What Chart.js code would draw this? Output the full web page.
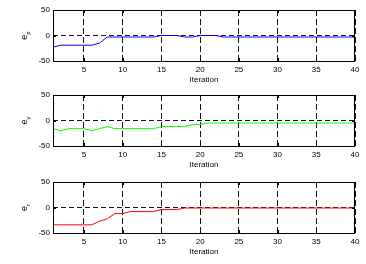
<!DOCTYPE html>
<html>
<head>
<meta charset="UTF-8">
<title>Errors per iteration</title>
<script src="https://cdn.jsdelivr.net/npm/chart.js"></script>
<style>
  body { margin: 0; background: #fff; }
  #wrap { position: relative; width: 366px; height: 264px; }
  canvas { position: absolute; left: 0; }
</style>
</head>
<body>
<div id="wrap">
  <canvas id="c1" width="366" height="86" style="top:0px"></canvas>
  <canvas id="c2" width="366" height="86" style="top:85px"></canvas>
  <canvas id="c3" width="366" height="86" style="top:172px"></canvas>
</div>
<script>
// data
const iterations = [1,2,3,4,5,6,7,8,9,10,11,12,13,14,15,16,17,18,19,20,
                    21,22,23,24,25,26,27,28,29,30,31,32,33,34,35,36,37,38,39,40];
const errP = [-23,-19,-19,-19,-19,-19,-15,-3,-3,-3,-3,-3,-3,-3,0,0,0,-3,-3,0,
              0,0,-3,-3,-3,-3,-3,-3,-3,-3,-3,-3,-3,-3,-3,-3,-3,-3,-3,-3];
const errY = [-16,-20,-16,-16,-16,-20,-16,-12,-16,-16,-16,-16,-16,-16,-12,-12,-12,-12,-8,-8,
              -5,-5,-5,-5,-5,-5,-5,-5,-5,-5,-5,-5,-5,-5,-5,-5,-5,-5,-5,-5];
const errR = [-34,-34,-34,-34,-34,-34,-27,-22,-12,-12,-8,-8,-8,-8,-4,-4,-4,-1,-1,-1,
              -1,-1,-1,-1,-1,-1,-1,-1,-1,-1,-1,-1,-1,-1,-1,-1,-1,-1,-1,-1];
const xTicks = [5,10,15,20,25,30,35,40];
const yTicks = [-50,0,50];

const FONT = 'Liberation Sans, Arial, sans-serif';

// box around the axes, inner tick marks and the subscripted y label
const axesDeco = {
  id: 'axesDeco',
  afterDraw(chart, args, opts) {
    const ctx = chart.ctx;
    const a = chart.chartArea;
    const xs = chart.scales.x, ys = chart.scales.y;
    ctx.save();
    ctx.strokeStyle = '#000';
    ctx.lineWidth = 1;
    ctx.setLineDash([]);
    ctx.strokeRect(Math.round(a.left) + 0.5, Math.round(a.top) + 0.5,
                   Math.round(a.right - a.left) - 1, Math.round(a.bottom - a.top));
    ctx.beginPath();
    xTicks.forEach(t => {
      const px = Math.round(xs.getPixelForValue(t)) + 0.5;
      ctx.moveTo(px, a.bottom); ctx.lineTo(px, a.bottom - 3);
      ctx.moveTo(px, a.top); ctx.lineTo(px, a.top + 3);
    });
    yTicks.forEach(t => {
      const py = Math.round(ys.getPixelForValue(t)) + 0.5;
      ctx.moveTo(a.left, py); ctx.lineTo(a.left + 3, py);
      ctx.moveTo(a.right, py); ctx.lineTo(a.right - 3, py);
    });
    ctx.stroke();

    // y label "e" with subscript
    ctx.translate(25, (a.top + a.bottom) / 2);
    ctx.rotate(-Math.PI / 2);
    ctx.fillStyle = '#000';
    ctx.textBaseline = 'alphabetic';
    ctx.font = '9px ' + FONT;
    const w = ctx.measureText('e').width;
    ctx.font = '6px ' + FONT;
    const sw = ctx.measureText(opts.sub).width;
    const x0 = -(w + sw) / 2;
    ctx.font = '9px ' + FONT;
    ctx.fillText('e', x0, 2);
    ctx.font = '6px ' + FONT;
    ctx.fillText(opts.sub, x0 + w, 5);
    ctx.restore();
  }
};

function makeChart(id, values, color, sub) {
  const ctx = document.getElementById(id).getContext('2d');
  return new Chart(ctx, {
    type: 'line',
    data: {
      datasets: [{
        data: iterations.map((it, i) => ({ x: it, y: values[i] })),
        borderColor: color,
        borderWidth: 1,
        pointRadius: 0,
        tension: 0,
        fill: false
      }]
    },
    options: {
      responsive: false,
      animation: false,
      layout: { padding: { top: 10, right: 11, left: 0, bottom: 0 } },
      plugins: {
        legend: { display: false },
        tooltip: { enabled: false },
        axesDeco: { sub: sub }
      },
      scales: {
        x: {
          type: 'linear',
          min: 1,
          max: 40,
          afterBuildTicks: s => { s.ticks = xTicks.map(v => ({ value: v })); },
          afterFit: s => { s.height = 25; },
          grid: { color: '#111', drawTicks: false },
          border: { display: false, dash: [6, 3] },
          ticks: { color: '#000', font: { family: FONT, size: 8 }, padding: 4, maxRotation: 0 },
          title: { display: true, text: 'Iteration', color: '#000',
                   font: { family: FONT, size: 8 }, padding: { top: 0, bottom: 1 } }
        },
        y: {
          min: -50,
          max: 50,
          afterBuildTicks: s => { s.ticks = yTicks.map(v => ({ value: v })); },
          afterFit: s => { s.width = 53; },
          grid: { color: '#111', drawTicks: false },
          border: { display: false, dash: [5, 3] },
          ticks: { color: '#000', font: { family: FONT, size: 8 }, padding: 3 }
        }
      }
    },
    plugins: [axesDeco]
  });
}

makeChart('c1', errP, '#0000ff', 'p');
makeChart('c2', errY, '#00ff00', 'y');
makeChart('c3', errR, '#ff0000', 'r');
</script>
</body>
</html>
